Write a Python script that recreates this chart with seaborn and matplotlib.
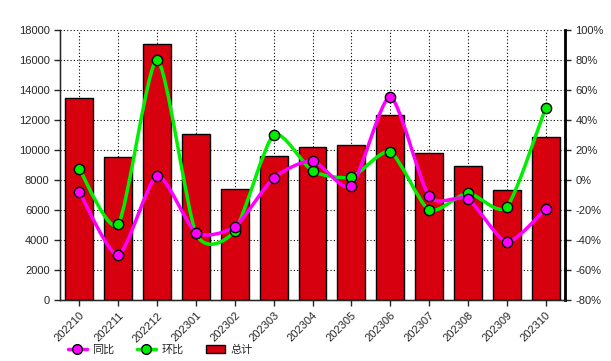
import numpy as np
import pandas as pd
import matplotlib
matplotlib.use("Agg")
import matplotlib.pyplot as plt
from matplotlib.path import Path
from matplotlib.patches import PathPatch, Patch
from matplotlib.lines import Line2D
import seaborn as sns

# data
months = ["202210", "202211", "202212", "202301", "202302", "202303", "202304",
          "202305", "202306", "202307", "202308", "202309", "202310"]
total = [13450, 9550, 17100, 11050, 7400, 9600, 10200, 10330, 12330, 9800, 8930, 7330, 10870]
yoy = [-8, -50, 2.7, -35, -31, 1.3, 12.7, -4, 55.3, -10.7, -12.7, -41.3, -19.3]
mom = [7.3, -29.3, 80, -35.5, -33.8, 30, 6, 2, 18.7, -20, -8.7, -18, 48]

sns.set_style("white")
plt.rcParams["font.family"] = ["Liberation Sans", "Noto Sans CJK SC", "DejaVu Sans"]

fig = plt.figure(figsize=(6.11, 3.61), dpi=100)
ax = fig.add_axes([60 / 611, 61 / 361, 505 / 611, 270 / 361])

df = pd.DataFrame({"month": months, "total": total})
sns.barplot(data=df, x="month", y="total", color="#d7000f", edgecolor="black",
            linewidth=1, width=0.72, saturation=1, ax=ax, zorder=2)
ax.set_xlim(-0.5, len(months) - 0.5)
ax.set_ylim(0, 18000)
ax.set_yticks(np.arange(0, 18001, 2000))
ax.set_xlabel("")
ax.set_ylabel("")
ax.grid(True, linestyle=(0, (1, 2)), color="black", linewidth=0.8, zorder=0)
ax.set_axisbelow(True)
ax.tick_params(axis="x", rotation=45, labelsize=8, length=4, width=1, direction="out", bottom=True)
ax.tick_params(axis="y", labelsize=8, length=4, width=1, direction="out", left=True)
for lbl in ax.get_xticklabels():
    lbl.set_ha("right")
    lbl.set_rotation_mode("anchor")
ax.spines["top"].set_visible(False)
for s in ["left", "bottom", "right"]:
    ax.spines[s].set_color("black")
    ax.spines[s].set_linewidth(1)

ax2 = ax.twinx()
ax2.set_ylim(-80, 100)
ax2.set_yticks(np.arange(-80, 101, 20))
ax2.set_yticklabels([f"{v}%" for v in range(-80, 101, 20)])
ax2.tick_params(axis="y", labelsize=8, length=4, width=1, direction="out", right=True)
ax2.spines["top"].set_visible(False)
ax2.spines["right"].set_linewidth(2)
ax2.spines["right"].set_color("black")
ax2.grid(False)


def smooth_path(xs, ys, t=0.35):
    # cardinal-spline style cubic bezier through the points
    xs = np.asarray(xs, float)
    ys = np.asarray(ys, float)
    verts = [(xs[0], ys[0])]
    codes = [Path.MOVETO]
    n = len(xs)
    for i in range(n - 1):
        p0 = i - 1 if i > 0 else i
        p3 = i + 2 if i + 2 < n else i + 1
        c1 = (xs[i] + (xs[i + 1] - xs[p0]) * t / 3, ys[i] + (ys[i + 1] - ys[p0]) * t / 3)
        c2 = (xs[i + 1] - (xs[p3] - xs[i]) * t / 3, ys[i + 1] - (ys[p3] - ys[i]) * t / 3)
        verts += [c1, c2, (xs[i + 1], ys[i + 1])]
        codes += [Path.CURVE4] * 3
    return Path(verts, codes)


xpos = np.arange(len(months))
for vals, col in [(mom, "#00ee00"), (yoy, "#ff00ff")]:
    ax2.add_patch(PathPatch(smooth_path(xpos, vals), facecolor="none", edgecolor=col,
                            linewidth=2.5, zorder=3))
    sns.scatterplot(x=xpos, y=vals, ax=ax2, color=col, edgecolor="black", linewidth=1,
                    s=55, zorder=4, legend=False)

handles = [
    Line2D([], [], color="#ff00ff", lw=2.5, marker="o", markersize=7,
           markerfacecolor="#ff00ff", markeredgecolor="black"),
    Line2D([], [], color="#00ee00", lw=2.5, marker="o", markersize=7,
           markerfacecolor="#00ee00", markeredgecolor="black"),
    Patch(facecolor="#d7000f", edgecolor="black"),
]
fig.legend(handles, ["同比", "环比", "总计"], loc="lower left", bbox_to_anchor=(58 / 611, -0.01),
           ncol=3, frameon=False, fontsize=8, handlelength=1.7, columnspacing=2.0,
           handletextpad=0.5)

fig.savefig("out.png", dpi=100)
